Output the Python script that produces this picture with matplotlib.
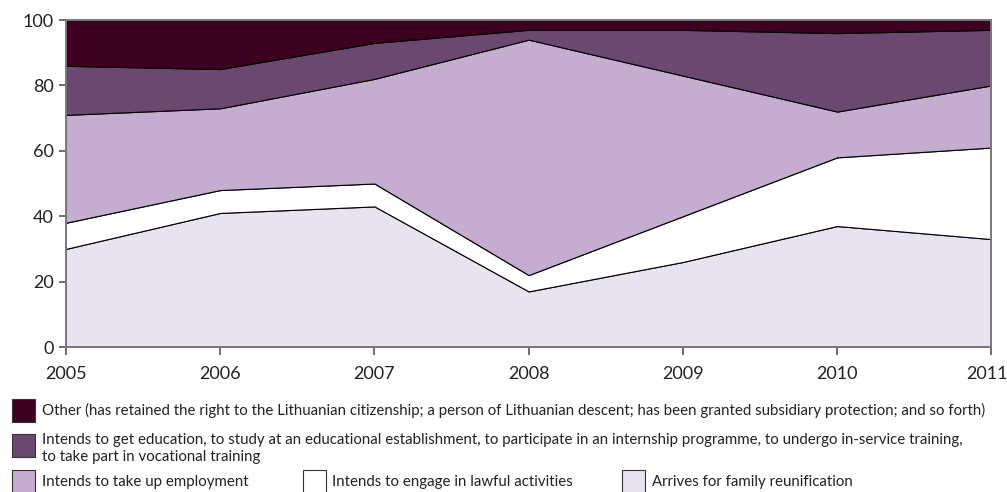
import matplotlib
matplotlib.use("Agg")
import matplotlib.pyplot as plt
import matplotlib.transforms as mtransforms
from matplotlib.patches import Rectangle

plt.rcParams['font.family'] = ['Lato', 'DejaVu Sans']

years = [2005, 2006, 2007, 2008, 2009, 2010, 2011]

# shares of residence permit grounds, per cent
family = [30, 41, 43, 17, 26, 37, 33]
lawful = [8, 7, 7, 5, 14, 21, 28]
employment = [33, 25, 32, 72, 43, 14, 19]
education = [15, 12, 11, 3, 14, 24, 17]
other = [14, 15, 7, 3, 3, 4, 3]

labels = [
    "Arrives for family reunification",
    "Intends to engage in lawful activities",
    "Intends to take up employment",
    "Intends to get education, to study at an educational establishment, to participate in an internship programme, to undergo in-service training,\nto take part in vocational training",
    "Other (has retained the right to the Lithuanian citizenship; a person of Lithuanian descent; has been granted subsidiary protection; and so forth)",
]
colors = ["#e7e3f0", "#ffffff", "#c4adcf", "#6b4870", "#3d001f"]

fig = plt.figure(figsize=(10.07, 4.92), dpi=100)
ax = fig.add_axes([0.0655, 0.2947, 0.919, 0.6646])

ax.stackplot(years, family, lawful, employment, education, other,
             colors=colors, edgecolor="black", linewidth=0.8)

ax.set_xlim(2005, 2011)
ax.set_ylim(0, 100)
ax.set_xticks(years)
ax.set_yticks(range(0, 101, 20))
for s in ax.spines.values():
    s.set_color("#7a7a7a")
    s.set_linewidth(1.4)
ax.tick_params(axis="both", colors="#555555", labelcolor="#222222",
               labelsize=13, width=1.2)
ax.tick_params(axis="x", length=6, pad=8)
ax.tick_params(axis="y", length=5, pad=4)

# nudge the last year label so it stays inside the figure
last = ax.get_xticklabels()[-1]
last.set_transform(last.get_transform() +
                   mtransforms.ScaledTranslation(-4 / 100, 0, fig.dpi_scale_trans))

# legend, built by hand in pixel rows
W, H = 1007, 492

def key(x, y, color, text, tx, dy=0):
    fig.patches.append(Rectangle((x / W, 1 - (y + 11.5) / H), 23 / W, 23 / H,
                                 transform=fig.transFigure, facecolor=color,
                                 edgecolor="#333333", linewidth=0.8))
    fig.text(tx / W, 1 - (y + dy) / H, text, fontsize=10.8, color="#222222",
             va="center", ha="left", linespacing=1.3)

key(12, 410.5, colors[4], labels[4], 42)
key(12, 445.5, colors[3], labels[3], 42, dy=3)
key(12, 482, colors[2], labels[2], 42)
key(303, 482, colors[1], labels[1], 332)
key(622, 482, colors[0], labels[0], 652)

fig.savefig("out.png", dpi=100)
